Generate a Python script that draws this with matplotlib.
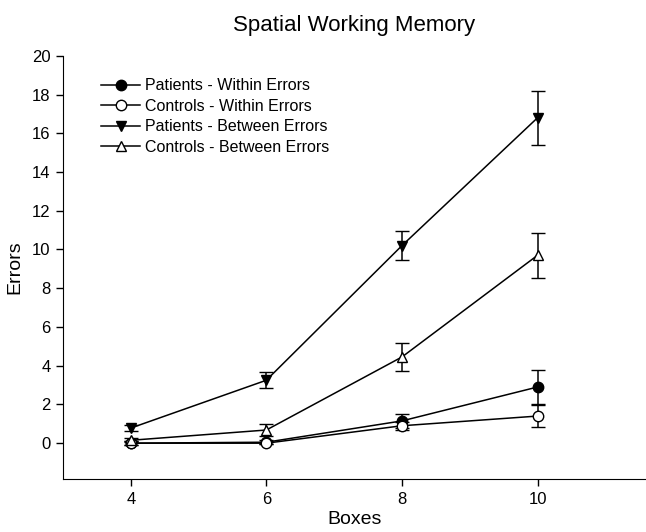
import numpy as np
import matplotlib
matplotlib.use("Agg")
import matplotlib.pyplot as plt
from matplotlib.lines import Line2D

plt.rcParams['font.family'] = ['Liberation Sans', 'DejaVu Sans']

# Data
boxes = [4, 6, 8, 10]

patients_within = [0.0, 0.05, 1.15, 2.9]
patients_within_err = [0.1, 0.1, 0.35, 0.9]

controls_within = [0.0, 0.0, 0.9, 1.4]
controls_within_err = [0.1, 0.05, 0.2, 0.55]

patients_between = [0.78, 3.25, 10.2, 16.8]
patients_between_err = [0.15, 0.4, 0.75, 1.4]

controls_between = [0.15, 0.68, 4.45, 9.7]
controls_between_err = [0.1, 0.3, 0.7, 1.15]

labels = ['Patients - Within Errors', 'Controls - Within Errors',
          'Patients - Between Errors', 'Controls - Between Errors']

fig = plt.figure(figsize=(6.46, 5.32), dpi=100)
ax = fig.add_axes([0.0975, 0.0996, 0.9025, 0.7955])

series = [
    (patients_within, patients_within_err, 'o', 'black'),
    (controls_within, controls_within_err, 'o', 'white'),
    (patients_between, patients_between_err, 'v', 'black'),
    (controls_between, controls_between_err, '^', 'white'),
]

handles = []
for (vals, errs, mk, fc), lab in zip(series, labels):
    ax.errorbar(boxes, vals, yerr=errs, color='black', ecolor='black',
                marker=mk, markersize=7.5, markerfacecolor=fc,
                markeredgecolor='black', markeredgewidth=1.0,
                linewidth=1.1, elinewidth=1.1, capsize=5, capthick=1.1)
    handles.append(Line2D([], [], color='black', marker=mk, markersize=7.5,
                          markerfacecolor=fc, markeredgecolor='black',
                          linewidth=1.1, label=lab))

ax.set_xlim(3, 11.6)
ax.set_ylim(-1.85, 20)
ax.set_xticks([4, 6, 8, 10])
ax.set_yticks(np.arange(0, 21, 2))
ax.spines['top'].set_visible(False)
ax.spines['right'].set_visible(False)
ax.tick_params(direction='out', length=5, width=1, labelsize=12, pad=4)

ax.set_xlabel('Boxes', fontsize=14, labelpad=3)
ax.set_ylabel('Errors', fontsize=14, labelpad=6)
ax.set_title('Spatial Working Memory', fontsize=16, pad=18)

ax.legend(handles=handles, loc='upper left', bbox_to_anchor=(0.055, 0.962),
          frameon=False, fontsize=11.5, handlelength=2.4, handletextpad=0.35,
          labelspacing=0.34, borderaxespad=0)

fig.savefig('out.png', dpi=100)
